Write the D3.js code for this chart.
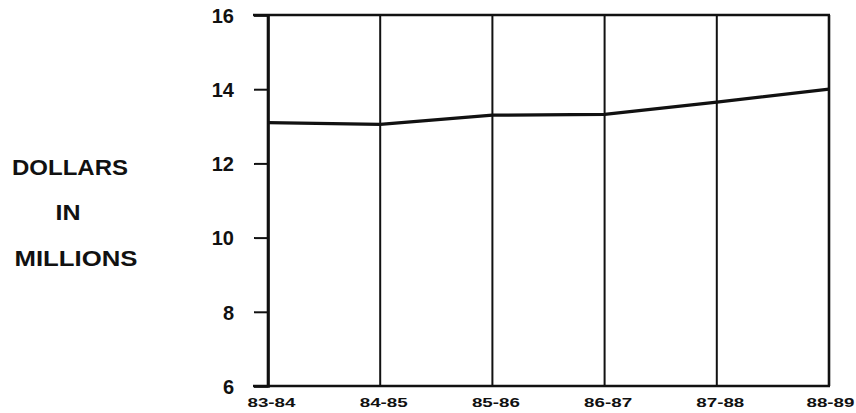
<!DOCTYPE html>
<html>
<head>
<meta charset="utf-8">
<script src="https://cdn.jsdelivr.net/npm/d3@7"></script>
<style>
  html, body { margin: 0; padding: 0; background: #fff; }
  svg { display: block; }
  text { font-family: "Liberation Sans", Arial, sans-serif; font-weight: bold; fill: #111; }
</style>
</head>
<body>
<svg id="chart" width="856" height="413"></svg>
<script>
const categories = ["83-84", "84-85", "85-86", "86-87", "87-88", "88-89"];
const values = [13.1, 13.05, 13.3, 13.32, 13.65, 14.0];
const yTicks = [6, 8, 10, 12, 14, 16];
const yTickLabels = ["6", "8", "10", "12", "14", "16"];
const titleLines = ["DOLLARS", "IN", "MILLIONS"];

const svg = d3.select("#chart");
const mLeft = 268, mRight = 829, mTop = 15, mBottom = 386;

const x = d3.scalePoint().domain(categories).range([mLeft, mRight]);
const y = d3.scaleLinear().domain([6, 16]).range([mBottom, mTop]);

const ink = "#111";

// vertical grid lines at each category
svg.append("g").selectAll("line").data(categories).join("line")
  .attr("x1", d => x(d)).attr("x2", d => x(d))
  .attr("y1", y(16)).attr("y2", y(6))
  .attr("stroke", ink).attr("stroke-width", d => (d === categories[0] || d === categories[categories.length-1]) ? 2.6 : 2);

// top and bottom frame lines (extend left as ticks)
svg.append("g").selectAll("line").data([16, 6]).join("line")
  .attr("x1", mLeft - 15).attr("x2", mRight + 1)
  .attr("y1", d => y(d)).attr("y2", d => y(d))
  .attr("stroke", ink).attr("stroke-width", 2.6);

// left axis
const yAxis = d3.axisLeft(y).tickValues(yTicks).tickSize(14).tickPadding(20)
  .tickFormat((d, i) => yTickLabels[i]);
const ga = svg.append("g").attr("transform", `translate(${mLeft},0)`).call(yAxis);
ga.select(".domain").attr("stroke", ink).attr("stroke-width", 2.6);
ga.selectAll(".tick line").attr("stroke", ink).attr("stroke-width", 2);
ga.selectAll(".tick text")
  .attr("font-size", 20).attr("fill", ink)
  .attr("font-family", "'Liberation Sans', Arial, sans-serif").attr("font-weight", "bold")
  .attr("dy", "0.36em");

// bottom category labels
const xAxis = d3.axisBottom(x).tickSize(0).tickPadding(11);
const gx = svg.append("g").attr("transform", `translate(0,${mBottom})`).call(xAxis);
gx.select(".domain").remove();
gx.selectAll(".tick text")
  .attr("font-size", 13.5).attr("fill", ink)
  .attr("font-family", "'Liberation Sans', Arial, sans-serif").attr("font-weight", "bold")
  .attr("dx", (d, i) => i === categories.length - 1 ? 1 : 3)
  .attr("textLength", 48).attr("lengthAdjust", "spacingAndGlyphs");

// data line
const line = d3.line().x((d, i) => x(categories[i])).y(d => y(d));
svg.append("path").datum(values)
  .attr("d", line).attr("fill", "none")
  .attr("stroke", ink).attr("stroke-width", 3.2).attr("stroke-linejoin", "round");

// axis title
const titleY = [175, 220, 266];
const titleX = [70, 68, 76];
const titleW = [116, 25, 123];
svg.append("g").selectAll("text").data(titleLines).join("text")
  .attr("x", (d, i) => titleX[i]).attr("y", (d, i) => titleY[i])
  .attr("text-anchor", "middle").attr("font-size", 22)
  .attr("textLength", (d, i) => titleW[i]).attr("lengthAdjust", "spacingAndGlyphs")
  .text(d => d);
</script>
</body>
</html>
